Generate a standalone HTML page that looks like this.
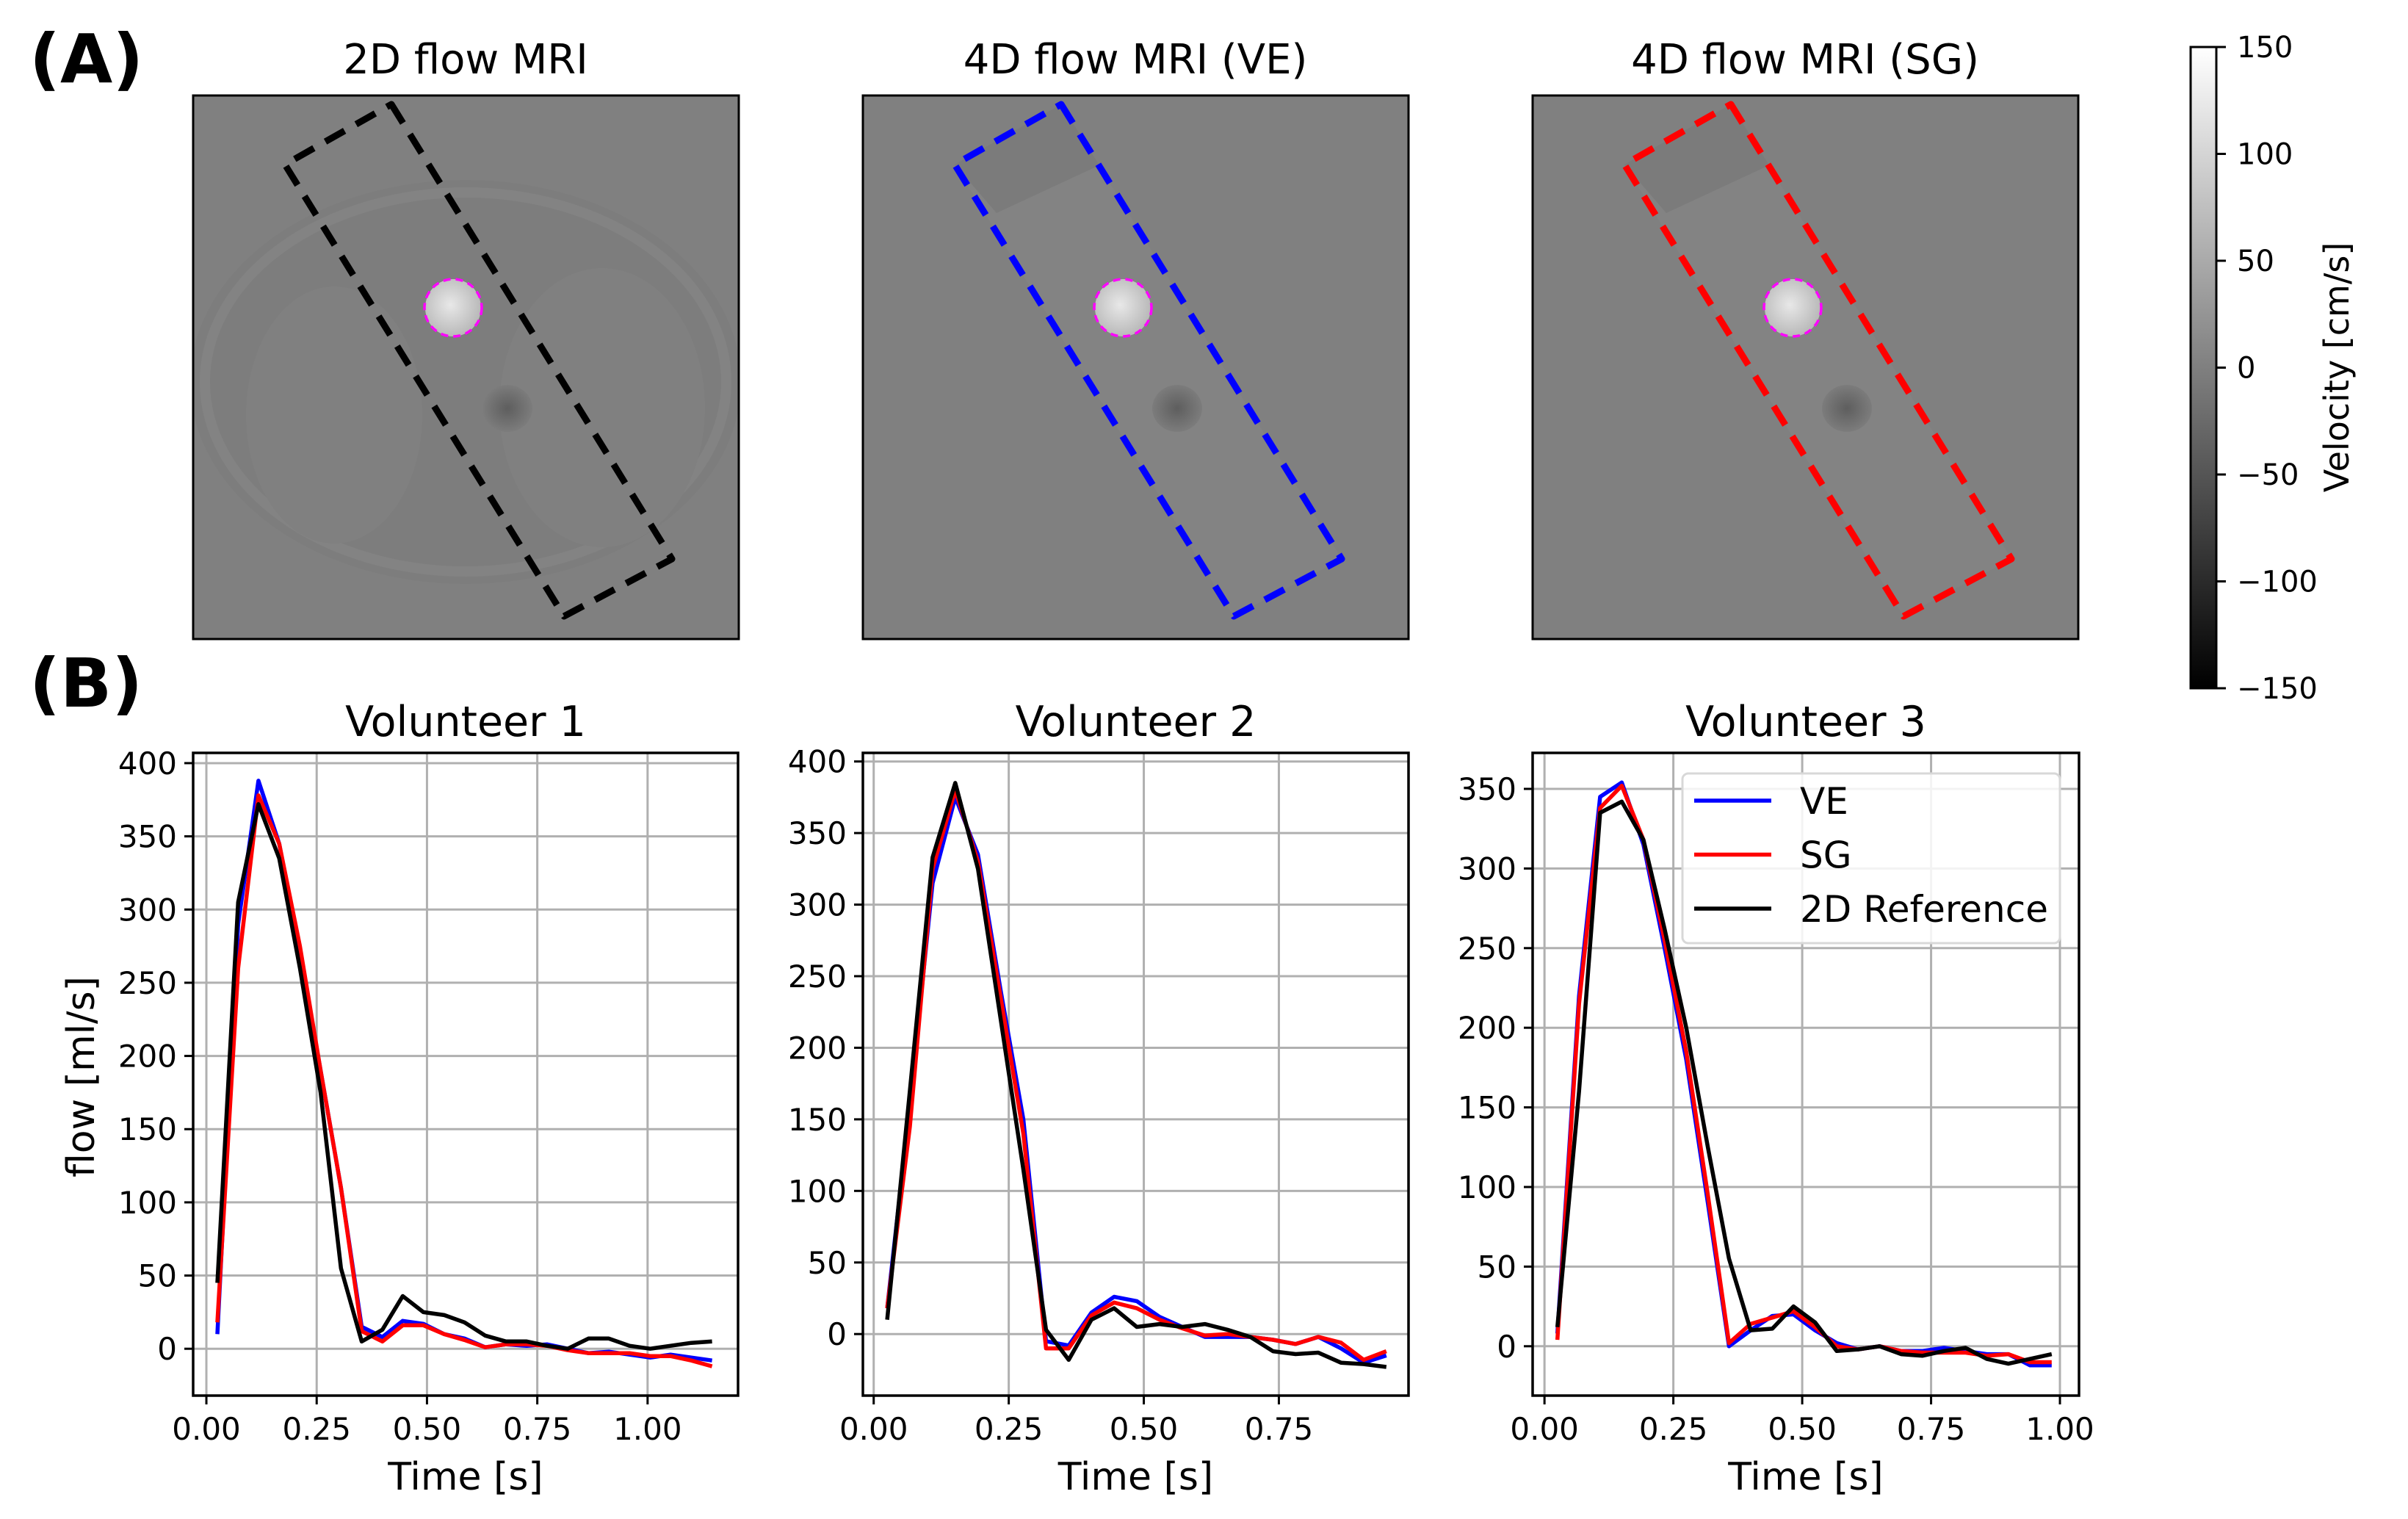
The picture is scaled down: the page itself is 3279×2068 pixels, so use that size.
<!DOCTYPE html>
<html><head><meta charset="utf-8"><style>
html,body{margin:0;padding:0;background:#fff;}
svg{display:block;font-family:"DejaVu Sans","Liberation Sans",sans-serif;}
</style></head><body>
<svg id="fig" width="3279" height="2068" viewBox="0 0 3279 2068" xmlns="http://www.w3.org/2000/svg">
<defs>
<linearGradient id="cbgrad" x1="0" y1="0" x2="0" y2="1"><stop offset="0" stop-color="#fff"/><stop offset="1" stop-color="#000"/></linearGradient>
<radialGradient id="aorta" cx="0.45" cy="0.45" r="0.6"><stop offset="0" stop-color="#e8e8e8"/><stop offset="1" stop-color="#b5b5b5"/></radialGradient>
<radialGradient id="dark" cx="0.5" cy="0.5" r="0.5"><stop offset="0" stop-color="#5e5e5e"/><stop offset="1" stop-color="#7c7c7c"/></radialGradient>
<clipPath id="imgclip"><rect x="263" y="130" width="743" height="740"/></clipPath>
</defs>
<g id="panelA"></g>
<g id="panelB"></g>
</svg>
<script>
// ---- chart data ----
const v1Time = [0.025,0.072,0.118,0.165,0.212,0.259,0.305,0.352,0.399,0.445,0.492,0.539,0.585,0.632,0.679,0.726,0.772,0.819,0.866,0.912,0.959,1.006,1.052,1.099,1.146];
const v1VE = [10,290,388,345,270,190,110,15,8,19,17,10,7,1,3,2,3,0,-3,-2,-4,-6,-4,-6,-8];
const v1SG = [18,260,378,345,275,190,110,12,5,16,16,10,6,1,3,3,2,-1,-3,-3,-3,-5,-5,-8,-12];
const v1Ref = [45,305,372,335,260,175,55,5,13,36,25,23,18,9,5,5,2,0,7,7,2,0,2,4,5];
const v2Time = [0.025,0.067,0.109,0.151,0.193,0.235,0.277,0.319,0.361,0.403,0.445,0.487,0.529,0.571,0.613,0.655,0.697,0.739,0.781,0.823,0.865,0.907,0.949];
const v2VE = [18,160,315,375,335,240,150,-5,-8,15,26,23,12,5,-2,-2,-2,-4,-7,-2,-10,-20,-15];
const v2SG = [18,145,325,380,330,235,140,-10,-10,13,22,18,10,4,-1,0,-2,-4,-7,-2,-6,-18,-12];
const v2Ref = [10,170,333,385,325,220,115,3,-18,10,18,5,7,5,7,3,-2,-12,-14,-13,-20,-21,-23];
const v3Time = [0.025,0.067,0.108,0.150,0.192,0.233,0.275,0.317,0.358,0.400,0.442,0.483,0.525,0.567,0.608,0.650,0.692,0.733,0.775,0.817,0.858,0.900,0.942,0.984];
const v3VE = [8,220,345,354,315,250,180,90,0,10,19,20,10,2,-2,0,-3,-3,-1,-3,-5,-5,-12,-12];
const v3SG = [4,215,338,352,318,255,185,95,2,14,18,22,12,0,-2,0,-3,-4,-4,-4,-6,-5,-10,-10];
const v3Ref = [12,160,335,342,318,262,200,125,55,10,11,25,15,-3,-2,0,-5,-6,-3,-1,-8,-11,-8,-5];
const v1YTicks = [0,50,100,150,200,250,300,350,400];
const v2YTicks = [0,50,100,150,200,250,300,350,400];
const v3YTicks = [0,50,100,150,200,250,300,350];
const v1XTicks = [0,0.25,0.5,0.75,1.0];
const v2XTicks = [0,0.25,0.5,0.75];
const v3XTicks = [0,0.25,0.5,0.75,1.0];
const cbTicks = [150,100,50,0,-50,-100,-150];
const seriesNames = ["VE","SG","2D Reference"];
const seriesColors = ["#0000ff","#ff0000","#000000"];

const NS="http://www.w3.org/2000/svg";
function mk(tag,attrs,parent){const e=document.createElementNS(NS,tag);for(const k in attrs)e.setAttribute(k,attrs[k]);if(parent)parent.appendChild(e);return e;}

// ---- panel A: MRI images ----
const pA=document.getElementById('panelA');
const lblA=mk('text',{x:40,y:112,'font-size':92,'font-weight':'bold'},pA);lblA.textContent='(A)';


const lblB=mk('text',{x:40,y:962,'font-size':92,'font-weight':'bold'},pA);lblB.textContent='(B)';


const imgs=[{dx:0,t:'2D flow MRI',c:'#000',full:true,n:'2d-flow-mri-image'},{dx:912,t:'4D flow MRI (VE)',c:'#0000ff',full:false,n:'4d-flow-ve-image'},{dx:1824,t:'4D flow MRI (SG)',c:'#ff0000',full:false,n:'4d-flow-sg-image'}];
imgs.forEach(im=>{
  const g=mk('g',{transform:`translate(${im.dx},0)`},pA);
  
  
  const cg=mk('g',{'clip-path':'url(#imgclip)'},g);
  mk('rect',{x:263,y:130,width:743,height:740,fill:'#808080'},cg);
  const roi="533,142 915,761 768,839 388,224";
  if(im.full){
    mk('ellipse',{cx:634,cy:520,rx:375,ry:275,fill:'#7d7d7d'},cg);
    mk('ellipse',{cx:634,cy:520,rx:355,ry:258,fill:'none',stroke:'#838383','stroke-width':14},cg);
    mk('ellipse',{cx:455,cy:565,rx:120,ry:175,fill:'#808080'},cg);
    mk('ellipse',{cx:820,cy:555,rx:140,ry:190,fill:'#808080'},cg);
  } else {
    mk('polygon',{points:roi,fill:'#838383'},cg);
    mk('polygon',{points:"533,142 585,225 445,290 388,224",fill:'#7b7b7b'},cg);
  }
  mk('ellipse',{cx:691,cy:556,rx:34,ry:32,fill:'url(#dark)'},cg);
  mk('ellipse',{cx:617,cy:419,rx:38,ry:39,fill:'url(#aorta)'},cg);
  mk('ellipse',{cx:617,cy:419,rx:39,ry:39,fill:'none',stroke:'#ff00ff','stroke-width':3.5,'stroke-dasharray':'10,7'},cg);
  const r=mk('polygon',{points:roi,fill:'none',stroke:im.c,'stroke-width':9,'stroke-dasharray':'30,18','stroke-linejoin':'round'},g);
  
  
  mk('rect',{x:263,y:130,width:743,height:740,fill:'none',stroke:'#000','stroke-width':3},g);
  const t=mk('text',{x:634,y:100,'font-size':56,'text-anchor':'middle'},g);t.textContent=im.t;
  
  
});
// colorbar
const cb=mk('g',{},pA);


mk('rect',{x:2983,y:64,width:35,height:873,fill:'url(#cbgrad)',stroke:'#000','stroke-width':3},cb);
cbTicks.forEach(v=>{
  const y=64+(150-v)/300*873;
  mk('line',{x1:3018,x2:3031,y1:y,y2:y,stroke:'#000','stroke-width':3},cb);
  const t=mk('text',{x:3046,y:y+14,'font-size':40},cb);t.textContent=String(v).replace('-','\u2212');
  
  
});
const cbl=mk('text',{x:3198,y:500,'font-size':46,'text-anchor':'middle',transform:'rotate(-90 3198 500)'},cb);cbl.textContent='Velocity [cm/s]';



// ---- panel B: charts ----
const pB=document.getElementById('panelB');
function chart(o){
  const g=mk('g',{},pB);
  
  
  const L=o.L,R=o.R,T=1025,B=1900;
  const sx=v=>L+(v-o.x0)/(o.x1-o.x0)*(R-L);
  const sy=v=>B-(v-o.y0)/(o.y1-o.y0)*(B-T);
  o.xt.forEach(v=>{const x=sx(v);
    const gl=mk('line',{x1:x,x2:x,y1:T,y2:B,stroke:'#b0b0b0','stroke-width':3},g);
    
    
    mk('line',{x1:x,x2:x,y1:B,y2:B+12,stroke:'#000','stroke-width':3},g);
    const t=mk('text',{x:x,y:B+60,'font-size':42,'text-anchor':'middle'},g);t.textContent=v.toFixed(2);
    
    });
  o.yt.forEach(v=>{const y=sy(v);
    const gl=mk('line',{x1:L,x2:R,y1:y,y2:y,stroke:'#b0b0b0','stroke-width':3},g);
    
    
    mk('line',{x1:L-12,x2:L,y1:y,y2:y,stroke:'#000','stroke-width':3},g);
    const t=mk('text',{x:L-22,y:y+15,'font-size':42,'text-anchor':'end'},g);t.textContent=String(v);
    
    });
  const sers=[o.ve,o.sg,o.ref];
  sers.forEach((s,i)=>{
    const d=s.map((v,j)=>(j?'L':'M')+sx(o.t[j]).toFixed(1)+','+sy(v).toFixed(1)).join(' ');
    const p=mk('path',{d:d,fill:'none',stroke:seriesColors[i],'stroke-width':5.5,'stroke-linejoin':'round'},g);
    
    
  });
  mk('rect',{x:L,y:T,width:R-L,height:B-T,fill:'none',stroke:'#000','stroke-width':3.5},g);
  const tt=mk('text',{x:(L+R)/2,y:1002,'font-size':57,'text-anchor':'middle'},g);tt.textContent=o.title;
  
  
  const xl=mk('text',{x:(L+R)/2,y:2028,'font-size':52,'text-anchor':'middle'},g);xl.textContent='Time [s]';
  
  
  if(o.ylab){const yl=mk('text',{x:128,y:1466,'font-size':52,'text-anchor':'middle',transform:'rotate(-90 128 1466)'},g);yl.textContent='flow [ml/s]';
    
    }
  if(o.legend){
    const lg=mk('g',{},g);
    
    
    mk('rect',{x:2291,y:1053,width:514,height:231,rx:8,fill:'#fff','fill-opacity':0.85,stroke:'#d8d8d8','stroke-width':3},lg);
    seriesNames.forEach((n,i)=>{const y=1090+i*73.5;
      mk('line',{x1:2307,x2:2412,y1:y,y2:y,stroke:seriesColors[i],'stroke-width':5.5},lg);
      const t=mk('text',{x:2451,y:y+18,'font-size':50},lg);t.textContent=n;
      
      });
  }
}
chart({name:'volunteer-1-chart',title:'Volunteer 1',L:263,R:1005,x0:-0.03,x1:1.205,y0:-32,y1:407,t:v1Time,ve:v1VE,sg:v1SG,ref:v1Ref,xt:v1XTicks,yt:v1YTicks,ylab:true});
chart({name:'volunteer-2-chart',title:'Volunteer 2',L:1175,R:1918,x0:-0.02,x1:0.99,y0:-43,y1:406,t:v2Time,ve:v2VE,sg:v2SG,ref:v2Ref,xt:v2XTicks,yt:v2YTicks});
chart({name:'volunteer-3-chart',title:'Volunteer 3',L:2087,R:2831,x0:-0.023,x1:1.037,y0:-31,y1:372.6,t:v3Time,ve:v3VE,sg:v3SG,ref:v3Ref,xt:v3XTicks,yt:v3YTicks,legend:true});
</script>
</body></html>
